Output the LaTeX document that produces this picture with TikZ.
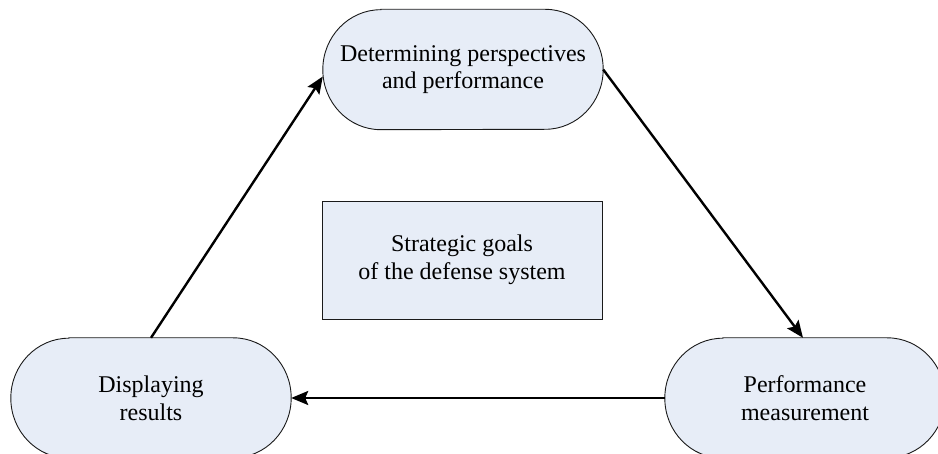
\documentclass[tikz,border=0pt]{standalone}
\usepackage{fontspec}
\setmainfont{Liberation Serif}
\usetikzlibrary{arrows.meta,backgrounds}
\definecolor{boxfill}{HTML}{E7EDF7}
\definecolor{boxline}{HTML}{1A1A1A}
\tikzset{
  termnode/.style={draw=none, minimum width=280pt, minimum height=120pt, inner sep=0pt, align=center,
    font=\fontsize{24}{27.6}\selectfont},
  termshape/.style={fill=boxfill, draw=boxline, line width=0.9pt},
  goalbox/.style={draw=boxline, fill=boxfill, line width=0.9pt, minimum width=280pt, minimum height=118pt,
    inner sep=0pt, align=center, font=\fontsize{24}{27.6}\selectfont},
  flow/.style={line width=2.4pt, -{Stealth[length=17pt,width=14pt,inset=3pt]}}
}
\newcommand\drawterm[1]{%
  \path[termshape] ([xshift=58pt]#1.north west) -- ([xshift=-58pt]#1.north east)
    arc[start angle=90,end angle=-90,x radius=58pt,y radius=60pt]
    -- ([xshift=58pt]#1.south west)
    arc[start angle=270,end angle=90,x radius=58pt,y radius=60pt] -- cycle;}
\begin{document}
\begin{tikzpicture}[x=1pt,y=1pt]
\useasboundingbox (0,0) rectangle (938,453);
\clip (0,0) rectangle (938,453);
\node[termnode] (top) at (463,383.5) {Determining perspectives\\and performance};
\node[termnode] (disp) at (151,55) {Displaying\\results};
\node[termnode] (perf) at (805,55) {Performance\\measurement};
\node[goalbox] (goal) at (462,193) {Strategic goals\\of the defense system};
\begin{scope}[on background layer]
\drawterm{top}
\drawterm{disp}
\drawterm{perf}
\end{scope}
\draw[flow] (disp.north) -- ([yshift=-7pt]top.west);
\draw[flow] (top.east) -- ([xshift=-2pt]perf.north);
\draw[flow] (perf.west) -- (disp.east);
\end{tikzpicture}
\end{document}
